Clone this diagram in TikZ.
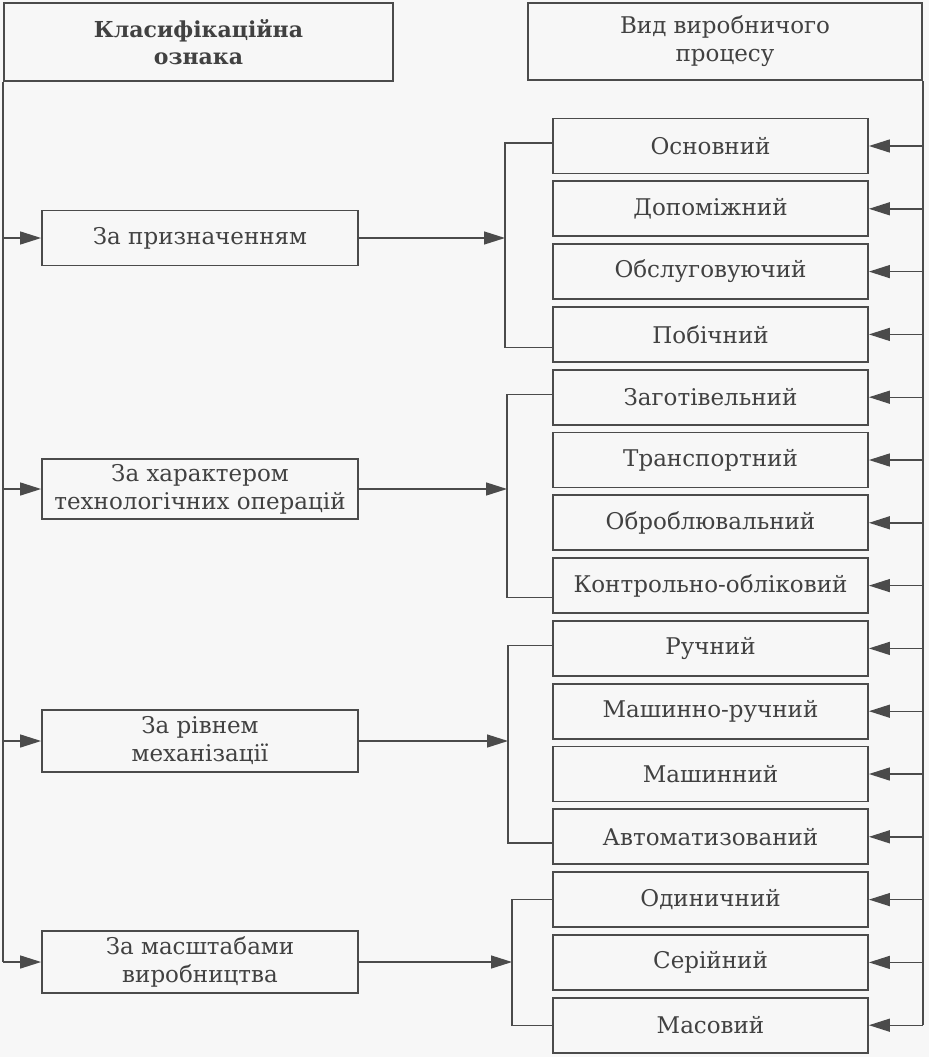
\documentclass[tikz,border=0pt]{standalone}
\usepackage{fontspec}
\setmainfont{DejaVu Serif}
\usetikzlibrary{arrows.meta}
\definecolor{ink}{RGB}{75,75,75}
\definecolor{txt}{RGB}{65,65,65}
\definecolor{paper}{RGB}{247,247,247}
\begin{document}
\begin{tikzpicture}[x=1pt,y=-1pt,
  box/.style={draw=ink, line width=1.8pt, text=txt, align=center, inner sep=0pt,
              font=\fontsize{23}{28}\selectfont},
  rbox/.style={box, minimum width=315pt, minimum height=55pt},
  lbox/.style={box, minimum width=316pt},
  conn/.style={draw=ink, line width=1.4pt},
  arr/.style={conn, -{Triangle[length=21pt,width=13pt]}}]
\fill[paper] (0,0) rectangle (929,1057);
\useasboundingbox (0,0) rectangle (929,1057);
% headers
\node[box, minimum width=389pt, minimum height=78pt, font=\fontsize{22}{27}\selectfont\bfseries] (h1) at (198.5,42)
  {Класифікаційна\\ознака};
\node[box, minimum width=394pt, minimum height=77pt] (h2) at (725,41.5)
  {Вид виробничого\\процесу};
% right column
\node[rbox] (r1) at (710.5,146.0) {Основний};
\node[rbox] (r2) at (710.5,208.8) {Допоміжний};
\node[rbox] (r3) at (710.5,271.6) {Обслуговуючий};
\node[rbox] (r4) at (710.5,334.4) {Побічний};
\node[rbox] (r5) at (710.5,397.2) {Заготівельний};
\node[rbox] (r6) at (710.5,460.0) {Транспортний};
\node[rbox] (r7) at (710.5,522.8) {Оброблювальний};
\node[rbox] (r8) at (710.5,585.6) {Контрольно-обліковий};
\node[rbox] (r9) at (710.5,648.4) {Ручний};
\node[rbox] (r10) at (710.5,711.2) {Машинно-ручний};
\node[rbox] (r11) at (710.5,774.0) {Машинний};
\node[rbox] (r12) at (710.5,836.8) {Автоматизований};
\node[rbox] (r13) at (710.5,899.6) {Одиничний};
\node[rbox] (r14) at (710.5,962.4) {Серійний};
\node[rbox] (r15) at (710.5,1025.2) {Масовий};
% left column
\node[lbox, minimum height=55pt] (l1) at (200,238) {За призначенням};
\node[lbox, minimum height=60pt] (l2) at (200,489) {За характером\\технологічних операцій};
\node[lbox, minimum height=62pt] (l3) at (200,741) {За рівнем\\механізації};
\node[lbox, minimum height=62pt] (l4) at (200,962) {За масштабами\\виробництва};
% bracket x positions
\coordinate (b1) at (505,0);
\coordinate (b2) at (507,0);
\coordinate (b3) at (508,0);
\coordinate (b4) at (512,0);
% left trunk
\draw[conn] (h1.south west) -- (l4.west -| h1.south west);
\foreach \n in {l1,l2,l3,l4}
  \draw[arr] (\n.west -| h1.south west) -- (\n.west);
% right trunk
\draw[conn] (h2.south east) -- (r15.east -| h2.south east);
\foreach \n in {r1,r2,r3,r4,r5,r6,r7,r8,r9,r10,r11,r12,r13,r14,r15}
  \draw[arr] (\n.east -| h2.south east) -- (\n.east);
% brackets
\draw[conn] ([yshift=3pt]r1.west) -- ([yshift=3pt]r1.west -| b1) -- ([yshift=-13pt]r4.west -| b1) -- ([yshift=-13pt]r4.west);
\draw[arr] (l1.east) -- (l1.east -| b1);
\draw[conn] ([yshift=3pt]r5.west) -- ([yshift=3pt]r5.west -| b2) -- ([yshift=-12pt]r8.west -| b2) -- ([yshift=-12pt]r8.west);
\draw[arr] (l2.east) -- (l2.east -| b2);
\draw[conn] ([yshift=3pt]r9.west) -- ([yshift=3pt]r9.west -| b3) -- ([yshift=-6pt]r12.west -| b3) -- ([yshift=-6pt]r12.west);
\draw[arr] (l3.east) -- (l3.east -| b3);
\draw[conn] (r13.west) -- (r13.west -| b4) -- (r15.west -| b4) -- (r15.west);
\draw[arr] (l4.east) -- (l4.east -| b4);
\end{tikzpicture}
\end{document}
